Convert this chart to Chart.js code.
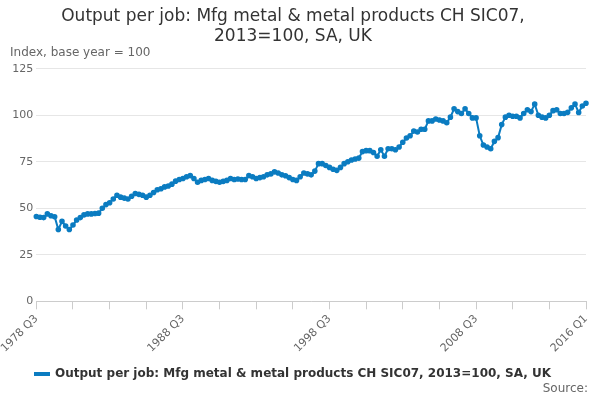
<!DOCTYPE html>
<html>
<head>
<meta charset="utf-8">
<script src="https://cdn.jsdelivr.net/npm/chart.js@4"></script>
<style>
  body { margin: 0; font-family: "DejaVu Sans", sans-serif; }
  #wrap { position: relative; width: 600px; height: 400px; }
  #yTitle { position: absolute; left: 10px; top: 45px; font-size: 12px; color: #666; }
  #source { position: absolute; right: 12px; top: 381px; font-size: 12px; color: #666; }
</style>
</head>
<body>
<div id="wrap">
  <canvas id="chart" width="600" height="400"></canvas>
  <div id="yTitle">Index, base year = 100</div>
  <div id="source">Source:</div>
</div>
<script>
const seriesName = "Output per job: Mfg metal & metal products CH SIC07, 2013=100, SA, UK";

// quarterly, 1978 Q3 .. 2016 Q1
const values = [
  45.6, 45.2, 45, 47, 46, 45.5, 38.6, 43, 40.5, 38.6,
  41, 43.7, 45, 46.5, 47, 47, 47.2, 47.4, 50, 52,
  53, 55, 57, 56, 55.5, 55, 56.5, 58, 57.5, 57,
  56, 57, 58.5, 60, 60.5, 61.5, 62, 63, 64.6, 65.5,
  66, 67, 67.6, 66, 64, 65, 65.5, 66, 65, 64.5,
  64, 64.5, 65, 66, 65.5, 65.8, 65.5, 65.5, 67.6, 67,
  66, 66.5, 67, 68, 68.5, 69.6, 69, 68, 67.5, 66.5,
  65.5, 65, 67, 69, 68.5, 68, 70, 74, 74, 73,
  72, 71, 70.4, 72, 74, 75, 76, 76.5, 77, 80.5,
  81, 81, 80, 78, 81.5, 78, 82, 82, 81.5, 83,
  85.5, 87.8, 89, 91.5, 91, 92.5, 92.5, 97, 97, 98,
  97.5, 97, 96, 99, 103.5, 102, 101, 103.5, 101, 98.6,
  98.6, 89, 84, 83, 82, 86, 88, 95, 99, 100,
  99.5, 99.5, 98.6, 101, 103, 102, 106, 100, 99, 98.6,
  100, 102.5, 103, 101, 101, 101.6, 104, 106, 101.5, 105,
  106.5
];

const labels = [];
let year = 1978, q = 3;
for (let i = 0; i < values.length; i++) {
  labels.push(year + " Q" + q);
  q++;
  if (q > 4) { q = 1; year++; }
}
const shownLabels = ["1978 Q3", "1988 Q3", "1998 Q3", "2008 Q3", "2016 Q1"];

new Chart(document.getElementById("chart"), {
  type: "line",
  data: {
    labels: labels,
    datasets: [{
      label: seriesName,
      data: values,
      borderColor: "#0b7cc1",
      backgroundColor: "#0b7cc1",
      borderWidth: 2,
      pointRadius: 1.8,
      pointHoverRadius: 3,
      tension: 0
    }]
  },
  options: {
    responsive: false,
    animation: false,
    layout: { padding: { left: 0, right: 14, top: 0, bottom: 10 } },
    plugins: {
      title: {
        display: true,
        text: ["Output per job: Mfg metal & metal products CH SIC07,", "2013=100, SA, UK"],
        font: { size: 17, weight: "normal", family: "DejaVu Sans" },
        color: "#333",
        padding: { top: 6, bottom: 22 }
      },
      legend: {
        position: "bottom",
        labels: {
          usePointStyle: false,
          boxWidth: 14,
          boxHeight: 2,
          font: { size: 12, weight: "bold", family: "DejaVu Sans" },
          color: "#333"
        }
      },
      tooltip: { enabled: false }
    },
    scales: {
      x: {
        grid: { drawOnChartArea: false, drawTicks: true, tickLength: 8, color: "#ccc" },
        border: { color: "#ccc" },
        ticks: {
          autoSkip: false,
          maxRotation: 45,
          minRotation: 45,
          color: "#666",
          font: { size: 11, family: "DejaVu Sans" },
          callback: function (val, i) {
            const l = labels[i];
            if (shownLabels.includes(l)) return l;
            if (i % 10 === 0) return "";
            return null;
          }
        }
      },
      y: {
        min: 0,
        max: 125,
        ticks: { stepSize: 25, color: "#666", font: { size: 11, family: "DejaVu Sans" } },
        grid: { color: "#e6e6e6", drawTicks: false },
        border: { display: false }
      }
    }
  }
});
</script>
</body>
</html>
